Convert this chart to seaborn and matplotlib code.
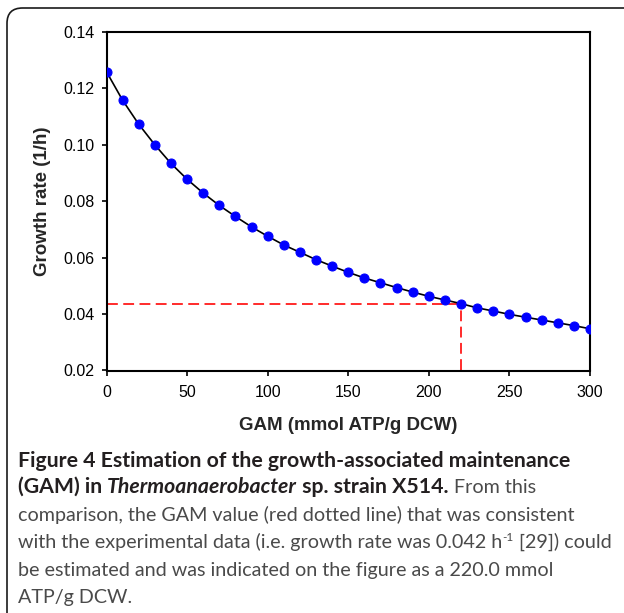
import numpy as np
import pandas as pd
import matplotlib
matplotlib.use("Agg")
import matplotlib.pyplot as plt
import seaborn as sns
from matplotlib.patches import FancyBboxPatch

# ---- data ----
gam = [0, 10, 20, 30, 40, 50, 60, 70, 80, 90, 100, 110, 120, 130, 140, 150,
       160, 170, 180, 190, 200, 210, 220, 230, 240, 250, 260, 270, 280, 290, 300]
growth = [0.1259, 0.1158, 0.1073, 0.1000, 0.0934, 0.0878, 0.0829, 0.0785,
          0.0746, 0.0709, 0.0676, 0.0645, 0.0619, 0.0593, 0.0570, 0.0548,
          0.0528, 0.0511, 0.0494, 0.0478, 0.0463, 0.0450, 0.0437, 0.0422,
          0.0411, 0.0399, 0.0389, 0.0379, 0.0369, 0.0359, 0.0348]
gam_est = 220.0
rate_est = 0.0434
xticks = [0, 50, 100, 150, 200, 250, 300]
yticks = [0.02, 0.04, 0.06, 0.08, 0.10, 0.12, 0.14]
xlabel = "GAM (mmol ATP/g DCW)"
ylabel = "Growth rate (1/h)"

df = pd.DataFrame({"gam": gam, "growth": growth})

W, H = 624, 613
DPI = 100
sns.set_style("white")
plt.rcParams["font.family"] = ["Liberation Sans", "DejaVu Sans"]

fig = plt.figure(figsize=(W / DPI, H / DPI), dpi=DPI)
fig.patch.set_facecolor("white")

# rounded frame (cut at right / bottom)
frame = FancyBboxPatch((7 / W, -20 / H), (W + 20 - 7) / W, (H - 8 + 20) / H,
                       boxstyle="round,pad=0,rounding_size=0.025",
                       transform=fig.transFigure, facecolor="none",
                       edgecolor="#1a1a1a", linewidth=1.2, zorder=0)
fig.patches.append(frame)

left, right, top, bottom = 106.5, 590.0, 32.0, 370.5
ax = fig.add_axes([left / W, (H - bottom) / H, (right - left) / W, (bottom - top) / H])
ax.set_facecolor("white")

sns.lineplot(data=df, x="gam", y="growth", ax=ax, color="black", linewidth=1.2,
             marker="o", markersize=6.5, markerfacecolor="#0000ff",
             markeredgecolor="#0000ff", zorder=3)

ax.plot([0, gam_est], [rate_est, rate_est], color="#ff1a1a", linestyle=(0, (6, 3)),
        linewidth=1.3, zorder=2)
ax.plot([gam_est, gam_est], [0.02, rate_est], color="#ff1a1a", linestyle=(0, (6, 3)),
        linewidth=1.3, zorder=2)

ax.set_xlim(0, 300)
ax.set_ylim(0.02, 0.14)
ax.set_xticks(xticks)
ax.set_xticklabels([str(v) for v in xticks])
ax.set_yticks(yticks)
ax.set_yticklabels([f"{v:.2f}" for v in yticks])
ax.tick_params(direction="out", length=3.6, width=1.2, colors="black",
               labelsize=11.5, left=True, bottom=True)
ax.tick_params(axis="y", pad=5)
ax.tick_params(axis="x", pad=7)
for sp in ax.spines.values():
    sp.set_visible(True)
    sp.set_color("black")
    sp.set_linewidth(1.5)
ax.set_xlabel(xlabel, fontsize=13.5, fontweight="bold", labelpad=12)
ax.set_ylabel(ylabel, fontsize=13.5, fontweight="bold", labelpad=9)

# ---- caption ----
cap_font = ["Lato", "DejaVu Sans"]
bold_c = "#231f20"
reg_c = "#4a4a4a"
renderer = fig.canvas.get_renderer()


def measure(s, size, weight="normal", style="normal"):
    t = fig.text(0, 0, s, fontsize=size, fontweight=weight, fontstyle=style,
                 family=cap_font)
    w = t.get_window_extent(renderer).width
    t.remove()
    return w

# fit sizes to measured widths in the reference
ref = 12.0
bold_size = ref * 549.0 / measure("Figure 4 Estimation of the growth-associated maintenance", ref, "bold")
reg_size = ref * 580.0 / measure("with the experimental data (i.e. growth rate was 0.042 h [29]) could", ref)

lines = [
    [("Figure 4 Estimation of the growth-associated maintenance", "bold", "normal", bold_c, 0)],
    [("(GAM) in ", "bold", "normal", bold_c, 0),
     ("Thermoanaerobacter", "bold", "italic", bold_c, 0),
     (" sp. strain X514.", "bold", "normal", bold_c, 0),
     (" From this", "normal", "normal", reg_c, 0)],
    [("comparison, the GAM value (red dotted line) that was consistent", "normal", "normal", reg_c, 0)],
    [("with the experimental data (i.e. growth rate was 0.042 h", "normal", "normal", reg_c, 0),
     ("-1", "normal", "normal", reg_c, 1),
     (" [29]) could", "normal", "normal", reg_c, 0)],
    [("be estimated and was indicated on the figure as a 220.0 mmol", "normal", "normal", reg_c, 0)],
    [("ATP/g DCW.", "normal", "normal", reg_c, 0)],
]
baselines = [466.6, 493.0, 520.6, 548.2, 575.8, 603.4]
x0 = 18.0
for pieces, yb in zip(lines, baselines):
    x = x0
    for s, wt, st, col, sup in pieces:
        size = bold_size if wt == "bold" else reg_size
        yy = yb
        if sup:
            size = size * 0.6
            yy = yb - 7
        t = fig.text(x / W, (H - yy) / H, s, fontsize=size, fontweight=wt,
                     fontstyle=st, family=cap_font, color=col, va="baseline", ha="left")
        x += t.get_window_extent(renderer).width

fig.savefig("out.png", dpi=DPI)
